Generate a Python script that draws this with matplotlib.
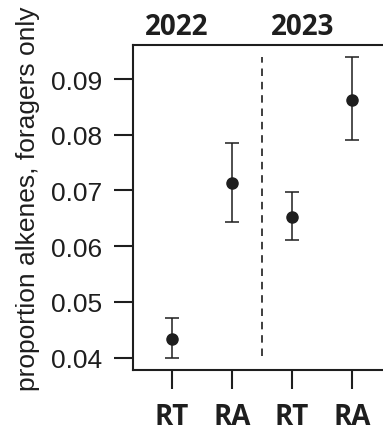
import numpy as np
import matplotlib
matplotlib.use("Agg")
from matplotlib import pyplot as plt
from matplotlib import transforms

# values
groups = ["RT", "RA", "RT", "RA"]
years = ["2022", "2023"]
means = [0.0434, 0.0714, 0.0653, 0.0862]
upper = [0.0471, 0.0786, 0.0698, 0.0939]
lower = [0.0400, 0.0643, 0.0612, 0.0790]
yticks = [0.04, 0.05, 0.06, 0.07, 0.08, 0.09]

ink = "#1e1e1e"
boldfont = ["Open Sans", "DejaVu Sans"]
plt.rcParams["font.family"] = ["Liberation Sans", "DejaVu Sans"]

fig = plt.figure(figsize=(3.83, 4.35), dpi=100)
ax = fig.add_axes([133 / 383, 1 - 371 / 435, 1 - 133 / 383, 325 / 435])

x = np.arange(1, len(groups) + 1)
m = np.array(means)
err = np.vstack([m - np.array(lower), np.array(upper) - m])
ax.errorbar(x, m, yerr=err, fmt="o", color=ink, ms=8, elinewidth=1.1,
            capsize=5, capthick=1.1)

# divider between years
ax.plot([2.5, 2.5], [0.0403, 0.0939], ls=(0, (4.5, 3.5)), color=ink, lw=1.2)

ax.set_xlim(0.35, 4.517)
ax.set_ylim(0.0378, 0.0961)
ax.set_yticks(yticks)
ax.set_yticklabels(["%.2f" % v for v in yticks])
ax.set_xticks(x)
ax.set_xticklabels(groups)

for s in ["left", "bottom", "top"]:
    ax.spines[s].set_linewidth(1.5)
    ax.spines[s].set_color(ink)
ax.spines["right"].set_visible(False)

ax.tick_params(axis="y", length=14, width=1.5, color=ink, labelsize=19,
               labelcolor=ink, pad=8)
ax.tick_params(axis="x", length=14, width=1.5, color=ink, pad=9)
for lab in ax.get_xticklabels():
    lab.set_family(boldfont)
    lab.set_weight("bold")
    lab.set_fontsize(20)
    lab.set_color(ink)

trans = transforms.blended_transform_factory(ax.transData, ax.transAxes)
for xpos, yr in zip([1.07, 3.18], years):
    ax.text(xpos, 1.058, yr, transform=trans, ha="center", va="center",
            fontsize=20, fontweight="bold", family=boldfont, color=ink)

fig.text(28 / 383, 1 - 199 / 435, "proportion alkenes, foragers only",
         rotation=90, ha="center", va="center", fontsize=19, color=ink)

fig.savefig("out.png", dpi=100)
